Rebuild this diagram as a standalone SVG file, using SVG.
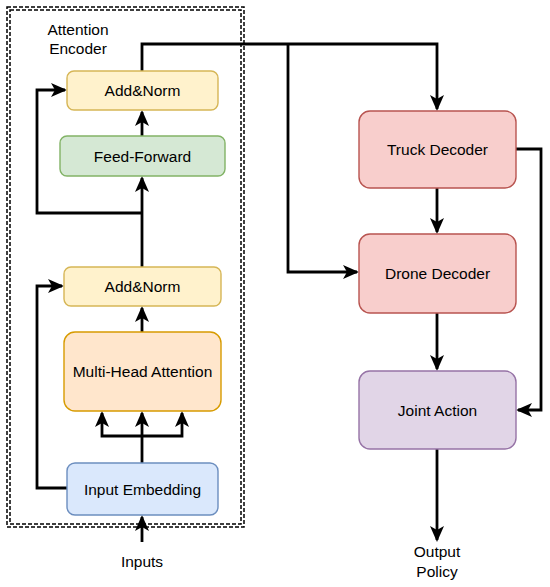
<svg xmlns="http://www.w3.org/2000/svg" width="550" height="587" viewBox="0 0 550 587">
<style>
text{font-family:"Liberation Sans",Arial,sans-serif;font-size:15.5px;fill:#000;text-anchor:middle;dominant-baseline:central}
.e{fill:none;stroke:#000;stroke-width:2.8;stroke-linejoin:miter}
.a{marker-end:url(#arr)}
.box{stroke-width:1.4}
.frame{fill:none;stroke:#000;stroke-width:1.5;stroke-dasharray:4 2}
</style>
<defs>
<marker id="arr" markerUnits="userSpaceOnUse" markerWidth="16" markerHeight="14" viewBox="0 0 16 14" refX="14" refY="7" orient="auto">
<path d="M0,0 L16,7 L0,14 L4,7 Z" fill="#000"/>
</marker>
</defs>
<g id="encoder-frame">
<rect class="frame" x="7" y="7" width="237" height="520"/>
<rect class="frame" x="10" y="10" width="231" height="514"/>
<text x="78" y="29">Attention</text>
<text x="78" y="48">Encoder</text>
</g>
<g id="connectors">
<path class="e a" d="M142,71 V44 H437 V109"/>
<path class="e a" d="M288,44 V272 H357"/>
<path class="e a" d="M437,188 V232"/>
<path class="e a" d="M437,313 V369"/>
<path class="e a" d="M516,149 H541 V410 H518"/>
<path class="e a" d="M437,449 V540"/>
<path class="e a" d="M142,542 V517"/>
<path class="e a" d="M142,463 V413"/>
<path class="e a" d="M142,436 H102 V413"/>
<path class="e a" d="M142,436 H182 V413"/>
<path class="e a" d="M142,332 V308"/>
<path class="e a" d="M67,488 H37 V286 H62"/>
<path class="e a" d="M142,267 V178"/>
<path class="e a" d="M142,213 H37 V90 H65"/>
<path class="e a" d="M142,136 V112"/>
</g>
<g id="add-norm-top">
<rect class="box" x="67" y="71" width="151" height="39" rx="7" fill="#fff2cc" stroke="#d6b656"/>
<text x="142.5" y="90.5">Add&amp;Norm</text>
</g>
<g id="feed-forward">
<rect class="box" x="60" y="136" width="165" height="40" rx="7" fill="#d5e8d4" stroke="#82b366"/>
<text x="142.5" y="156">Feed-Forward</text>
</g>
<g id="add-norm-bottom">
<rect class="box" x="64" y="267" width="157" height="39" rx="7" fill="#fff2cc" stroke="#d6b656"/>
<text x="142.5" y="286.5">Add&amp;Norm</text>
</g>
<g id="multi-head-attention">
<rect class="box" x="64" y="332" width="157" height="79" rx="11" fill="#ffe6cc" stroke="#d79b00"/>
<text x="142.5" y="371">Multi-Head Attention</text>
</g>
<g id="input-embedding">
<rect class="box" x="67" y="463" width="151" height="52" rx="8" fill="#dae8fc" stroke="#6c8ebf"/>
<text x="142.5" y="489">Input Embedding</text>
</g>
<g id="inputs">
<text x="142" y="561">Inputs</text>
</g>
<g id="truck-decoder">
<rect class="box" x="359" y="111" width="157" height="77" rx="11" fill="#f8cecc" stroke="#b85450"/>
<text x="437.5" y="149.5">Truck Decoder</text>
</g>
<g id="drone-decoder">
<rect class="box" x="359" y="234" width="157" height="79" rx="11" fill="#f8cecc" stroke="#b85450"/>
<text x="437.5" y="273">Drone Decoder</text>
</g>
<g id="joint-action">
<rect class="box" x="359" y="371" width="157" height="78" rx="11" fill="#e1d5e7" stroke="#9673a6"/>
<text x="437.5" y="410">Joint Action</text>
</g>
<g id="output-policy">
<text x="437" y="551">Output</text>
<text x="437" y="571">Policy</text>
</g>
</svg>
